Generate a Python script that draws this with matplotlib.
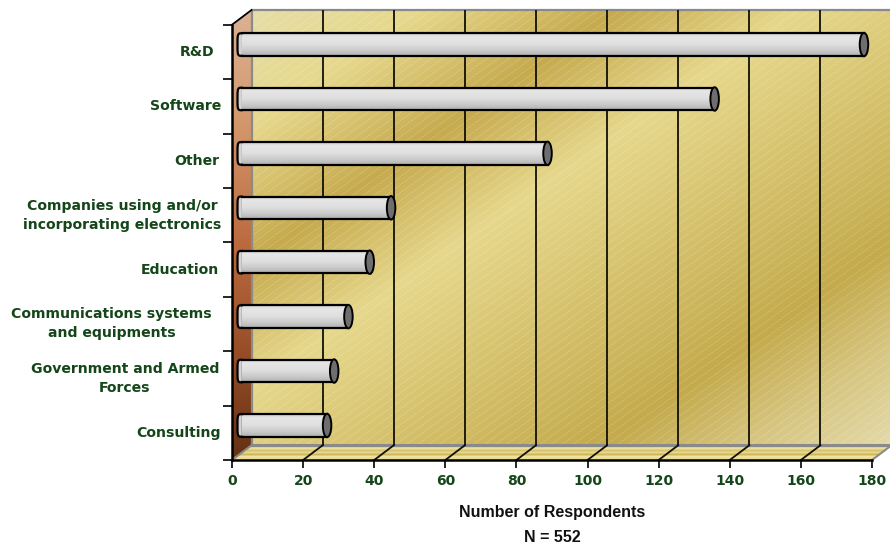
import numpy as np
import matplotlib
matplotlib.use('Agg')
import matplotlib.pyplot as plt
from matplotlib.patches import Ellipse, Polygon
from matplotlib.transforms import Bbox

# respondents per category
categories = ['R&D', 'Software', 'Other', 'Companies using and/or\nincorporating electronics',
              'Education', 'Communications systems\nand equipments',
              'Government and Armed\nForces', 'Consulting']
respondents = [175, 133, 86, 42, 36, 30, 26, 24]
x_ticks = [0, 20, 40, 60, 80, 100, 120, 140, 160, 180]

GREEN = '#14461a'
EDGE = '#8a8a8a'

W, H = 890, 551
fig = plt.figure(figsize=(W / 100, H / 100), dpi=100)
# axes run from the origin to the right edge of the figure
ax = fig.add_axes(Bbox.from_extents(232 / W, 1 - 460 / H, 1.0, 1 - 10 / H))

px_x = 640 / 180      # pixels per respondent
px_y = 54.4           # pixels per category band
dx = 19.5 / px_x      # depth of the 3d box
dy = 14.7 / px_y
y_pos = np.arange(len(categories))
y_front, y_top = 7.5, -0.5
x_max = (W - 232) / px_x


def ramp(t, stops):
    pos = [s[0] for s in stops]
    return np.dstack([np.interp(t, pos, [s[1][c] for s in stops]) for c in range(3)]) / 255


# back wall: diagonal gold gradient with thin hatching
yy, xx = np.mgrid[10:446, 251:891]
t = 0.69 * xx + yy
wall = ramp(t, [(183, (230, 222, 168)), (300, (230, 216, 140)), (435, (198, 170, 78)),
                (560, (230, 216, 140)), (860, (196, 170, 76)), (960, (215, 198, 130)),
                (1060, (228, 218, 170))])
hatch = (((0.72 * xx + yy) % 8) < 1)[..., None]
wall = wall + (1 - wall) * hatch * 0.16
ax.imshow(wall, extent=(dx, dx + 180, y_front - dy, y_top - dy), aspect='auto', zorder=1)

# left side wall
side_poly = Polygon([(0, y_top), (dx, y_top - dy), (dx, y_front - dy), (0, y_front)],
                    closed=True, transform=ax.transData, facecolor='none', edgecolor='none')
ax.add_patch(side_poly)
side_y = np.arange(10, 461)[:, None]
side = ramp(side_y, [(10, (218, 178, 150)), (120, (212, 152, 108)), (250, (186, 104, 60)),
                     (360, (148, 76, 38)), (460, (100, 48, 20))])
im = ax.imshow(side, extent=(0, dx, y_front, y_top - dy), aspect='auto', zorder=1)
im.set_clip_path(side_poly)

# floor with horizontal wood-like bands
floor_poly = Polygon([(0, y_front), (180, y_front), (180 + dx, y_front - dy), (dx, y_front - dy)],
                     closed=True, transform=ax.transData, facecolor='none', edgecolor='none')
ax.add_patch(floor_poly)
floor_y = np.arange(446, 461)[:, None]
floor = ramp(floor_y, [(446, (214, 192, 108)), (449, (236, 224, 158)), (451, (216, 194, 110)),
                       (453, (232, 216, 140)), (455, (206, 182, 92)), (457, (240, 228, 165)),
                       (460, (230, 214, 135))])
im = ax.imshow(floor, extent=(0, 180 + dx, y_front, y_front - dy), aspect='auto', zorder=1)
im.set_clip_path(floor_poly)

# frame of the box
ax.plot([dx, dx], [y_front - dy, y_top - dy], color=EDGE, lw=1.6, zorder=2)
ax.plot([dx, 180 + dx + 1], [y_top - dy, y_top - dy], color=EDGE, lw=1.6, zorder=2, clip_on=False)
ax.plot([dx, 180 + dx], [y_front - dy, y_front - dy], color=EDGE, lw=2.2, zorder=2)
ax.plot([0, dx], [y_front, y_front - dy], color=EDGE, lw=1.5, zorder=2)
ax.plot([180, 180 + dx], [y_front, y_front - dy], color=EDGE, lw=1.5, zorder=2)

# gridlines on wall and floor
for v in x_ticks[1:-1]:
    ax.plot([v + dx, v + dx], [y_front - dy, y_top - dy], color='#101008', lw=1.3, zorder=3)
    ax.plot([v, v + dx], [y_front, y_front - dy], color='#101008', lw=1.3, zorder=3)

# cylinders
bar_h = 22.5 / px_y
left = dx / 2
cap_w = 8.5 / px_x
bar_y = y_pos - dy / 2
bars = ax.barh(bar_y, respondents, left=left, height=bar_h, facecolor='none', edgecolor='none', zorder=5)
shade = ramp(np.linspace(0, 1, 24)[:, None], [(0, (208, 208, 208)), (0.15, (230, 230, 230)),
                                              (0.5, (222, 222, 222)), (0.8, (200, 200, 200)),
                                              (1, (176, 176, 176))])
# squared-off outline for the near end of each tube
angle = np.linspace(np.pi / 2, 3 * np.pi / 2, 40)
end_x = -np.abs(np.cos(angle)) ** 0.45 * cap_w / 2
end_y = np.sign(np.sin(angle)) * np.abs(np.sin(angle)) ** 0.45 * bar_h / 2
for rect, y, val in zip(bars, bar_y, respondents):
    ax.add_patch(Polygon(np.column_stack([left + end_x, y + end_y]), closed=True,
                         facecolor='#d4d4d4', edgecolor='none', zorder=6))
    ax.plot(left + end_x, y + end_y, color='black', lw=1.6, zorder=6)
    im = ax.imshow(shade, extent=(left, left + val, y + bar_h / 2, y - bar_h / 2), aspect='auto', zorder=5)
    im.set_clip_path(rect)
    ax.plot([left, left + val], [y - bar_h / 2] * 2, color='black', lw=1.6, zorder=6)
    ax.plot([left, left + val], [y + bar_h / 2] * 2, color='black', lw=1.6, zorder=6)
    ax.add_patch(Ellipse((left + val, y), cap_w, bar_h * 1.04, facecolor='#6e6e6e', edgecolor='black', lw=1.4, zorder=7))

ax.set_xlim(0, x_max)
ax.set_ylim(y_front, y_top - dy)
ax.patch.set_visible(False)

for s in ['top', 'right']:
    ax.spines[s].set_visible(False)
ax.spines['left'].set_bounds(y_top, y_front)
ax.spines['bottom'].set_bounds(0, 180)
ax.spines['left'].set_linewidth(1.8)
ax.spines['bottom'].set_linewidth(1.8)
ax.spines['left'].set_zorder(8)
ax.spines['bottom'].set_zorder(8)
ax.plot([0, dx], [y_top, y_top - dy], color='black', lw=1.3, zorder=8, clip_on=False)

ax.set_xticks(x_ticks)
ax.set_xticklabels(x_ticks, fontweight='bold', fontsize=10, color=GREEN, family='DejaVu Sans')
ax.set_yticks(np.arange(y_top, y_front + 1))
ax.set_yticklabels([])
ax.tick_params(axis='x', length=6, width=1.2, pad=4)
ax.tick_params(axis='y', length=6.5, width=1.2)

# category names sit at different distances from the axis
label_gap = [18, 11, 13, 11, 13, 20, 13, 11]
for name, y, gap in zip(categories, y_pos, label_gap):
    ax.annotate(name, xy=(0, y), xycoords='data', xytext=(-gap, 0), textcoords='offset pixels',
                ha='right', va='center', multialignment='center', linespacing=1.45,
                fontweight='bold', fontsize=10.1, color=GREEN, family='DejaVu Sans', annotation_clip=False)

ax.text(90, -0.145, 'Number of Respondents\nN = 552', transform=ax.get_xaxis_transform(),
        ha='center', va='center', linespacing=1.8, fontweight='bold', fontsize=11.5,
        color='#111111', family='Liberation Sans')

fig.savefig('out.png', dpi=100)
